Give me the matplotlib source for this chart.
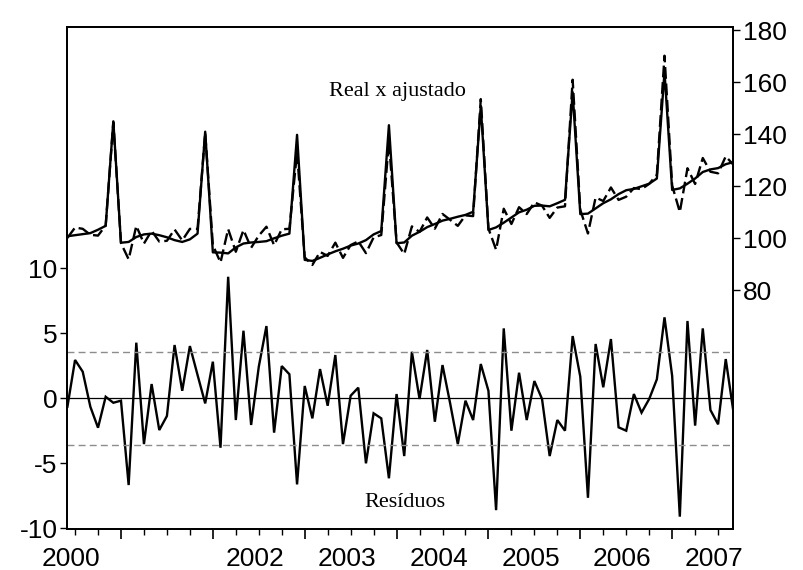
import numpy as np
import matplotlib
matplotlib.use('Agg')
import matplotlib.pyplot as plt
from matplotlib.ticker import FixedLocator

plt.rcParams['axes.unicode_minus'] = False

# monthly observations 2000:06 .. 2007:09
start_year, start_month = 2000, 6

fitted = [100.8, 101.2, 101.6, 102.0, 103.3, 104.8, 145.0,
          98.3, 98.6, 100.5, 101.5, 101.8, 101.2, 100.4, 99.3, 98.6, 99.6, 101.8, 141.0,
          94.6, 94.5, 94.2, 96.5, 98.0, 98.4, 98.6, 98.9, 100.0, 101.0, 101.8, 139.8,
          91.7, 91.3, 92.5, 93.8, 95.0, 96.0, 97.2, 98.0, 99.3, 101.5, 102.8, 143.5,
          98.1, 98.4, 101.0, 102.5, 104.3, 105.5, 106.8, 107.5, 108.3, 109.0, 110.2, 150.9,
          103.2, 104.2, 106.0, 108.0, 110.0, 111.0, 112.5, 112.6, 112.3, 113.5, 114.8, 156.2,
          109.3, 109.5, 111.5, 113.5, 115.0, 117.0, 118.5, 119.0, 120.0, 121.0, 123.0, 164.0,
          118.6, 119.2, 121.0, 123.0, 125.5, 126.5, 127.0, 128.5, 129.3]

actual = [100.15, 104.15, 103.65, 101.35, 101.04, 104.92, 144.66,
          98.12, 91.93, 104.78, 97.98, 102.9, 98.76, 99.04, 103.4, 99.18, 103.62, 103.6, 140.61,
          97.42, 90.7, 103.55, 94.83, 103.2, 96.35, 101.03, 104.46, 97.36, 103.48, 103.65, 133.18,
          92.65, 89.76, 94.75, 93.23, 98.33, 92.48, 97.4, 98.82, 94.3, 100.35, 101.26, 137.35,
          98.43, 93.96, 104.58, 102.45, 108.02, 103.7, 109.36, 107.11, 104.78, 108.82, 108.53, 153.54,
          103.78, 95.6, 111.38, 105.51, 111.97, 109.33, 113.83, 112.55, 107.86, 111.83, 112.31, 160.99,
          110.96, 101.85, 115.68, 114.35, 119.56, 114.77, 116.01, 119.33, 118.9, 120.95, 124.46, 170.23,
          120.32, 110.1, 126.95, 120.9, 130.88, 125.6, 125.0, 131.52, 128.27]

resid = [-0.65, 2.95, 2.05, -0.65, -2.26, 0.12, -0.34,
         -0.18, -6.67, 4.28, -3.52, 1.1, -2.44, -1.36, 4.1, 0.58, 4.02, 1.8, -0.39,
         2.82, -3.8, 9.35, -1.67, 5.2, -2.05, 2.43, 5.56, -2.64, 2.48, 1.85, -6.62,
         0.95, -1.54, 2.25, -0.57, 3.33, -3.52, 0.2, 0.82, -5.0, -1.15, -1.54, -6.15,
         0.33, -4.44, 3.58, -0.05, 3.72, -1.8, 2.56, -0.39, -3.52, -0.18, -1.67, 2.64,
         0.58, -8.6, 5.38, -2.49, 1.97, -1.67, 1.33, -0.05, -4.44, -1.67, -2.49, 4.79,
         1.66, -7.65, 4.18, 0.85, 4.56, -2.23, -2.49, 0.33, -1.1, -0.05, 1.46, 6.23,
         1.72, -9.1, 5.95, -2.1, 5.38, -0.9, -2.0, 3.02, -1.03]

se_band = 3.58
year_labels = ['2000', '2002', '2003', '2004', '2005', '2006', '2007']

n = len(resid)
t = np.arange(n)
# index of January of each year and mid-year label positions
jan_idx = [i for i in range(n) if (start_month - 1 + i) % 12 == 0]
quarter_idx = [i for i in range(n) if (start_month - 1 + i) % 3 == 0 and i not in jan_idx]
label_pos = [0.5] + [j + 5.5 for j in jan_idx[1:]]

fig = plt.figure(figsize=(8.04, 5.70), dpi=100)
ax = fig.add_axes([67.4/804, 41/570, 666/804, 502/570])
ax2 = ax.twinx()

# residuals, left scale
ax.plot(t, resid, color='black', lw=1.7, solid_joinstyle='miter')
ax.axhline(0, color='black', lw=0.9)
ax.axhline(se_band, color='#8c8c8c', lw=1.0, ls=(0, (5, 3)))
ax.axhline(-se_band, color='#8c8c8c', lw=1.0, ls=(0, (5, 3)))
ax.set_ylim(-10.05, 28.56)
ax.set_yticks([-10, -5, 0, 5, 10])
ax.set_yticklabels(['-10', '-5', '0', '5', '10'])

# actual vs fitted, right scale
ax2.plot(t, fitted, color='black', lw=1.7)
ax2.plot(t, actual, color='black', lw=1.7, ls=(0, (5, 2)))
ax2.set_ylim(-11.8, 181.27)
ax2.set_yticks([80, 100, 120, 140, 160, 180])

ax.set_xlim(0, n - 1)
ax.xaxis.set_major_locator(FixedLocator(jan_idx))
ax.xaxis.set_minor_locator(FixedLocator(quarter_idx))
ax.set_xticklabels([])
for pos, lab in zip(label_pos, year_labels):
    ax.text(pos, -0.035, lab, transform=ax.get_xaxis_transform(),
            ha='center', va='top', fontsize=19, family='Liberation Sans')

for a in (ax, ax2):
    for s in a.spines.values():
        s.set_linewidth(1.3)
ax.tick_params(axis='x', which='major', direction='out', length=7, width=1.2)
ax.tick_params(axis='x', which='minor', direction='out', length=4.5, width=1.0)
ax.tick_params(axis='y', direction='out', length=5, width=1.0, pad=2, labelsize=19)
ax2.tick_params(axis='y', direction='out', length=5, width=1.0, pad=2, labelsize=19)
for lab in ax.get_yticklabels() + ax2.get_yticklabels():
    lab.set_family('Liberation Sans')

ax.text(0.495, 0.872, 'Real x ajustado', transform=ax.transAxes, ha='center', va='center',
        fontsize=16, family='Liberation Serif')
ax.text(0.507, 0.052, 'Resíduos', transform=ax.transAxes, ha='center', va='center',
        fontsize=16, family='Liberation Serif')

fig.savefig('out.png', dpi=100)
